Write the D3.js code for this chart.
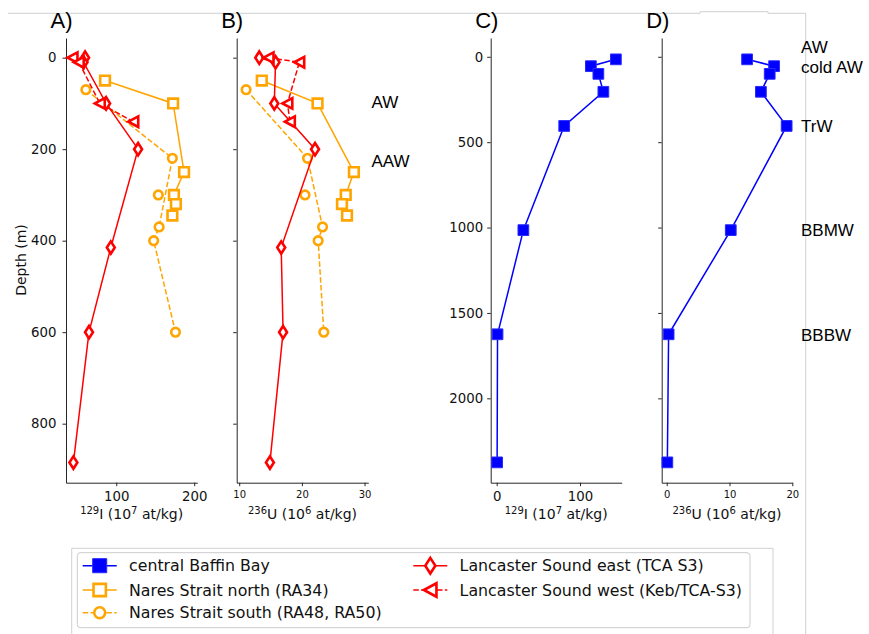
<!DOCTYPE html>
<html lang="en">
<head>
<meta charset="UTF-8">
<title>Depth profiles 129I / 236U</title>
<script src="https://d3js.org/d3.v7.min.js"></script>
<style>
  body { margin: 0; background: #fff; }
  svg text { font-family: "DejaVu Sans", sans-serif; fill: #111; }
  svg text.lab { font-family: "Liberation Sans", Arial, sans-serif; fill: #000; }
</style>
</head>
<body>
<svg id="chart" width="869" height="634"></svg>
<script>
// values
// Lancaster Sound east (TCA S3)
var lseDepth = [0, 10, 100, 200, 415, 600, 885];
var lseI = [60, 58, 87, 128, 93, 65, 45];
var lseU = [13.2, 15.8, 15.6, 22.1, 16.7, 17.0, 14.9];
// Lancaster Sound west (Keb/TCA-S3)
var lswDepth = [0, 10, 100, 140];
var lswI = [44, 52, 79, 122];
var lswU = [14.7, 19.6, 17.7, 18.1];
// Nares Strait north (RA34)
var nsnDepth = [50, 100, 250, 300, 320, 345];
var nsnI = [85.6, 173, 187, 174, 176.5, 172];
var nsnU = [13.6, 22.5, 28.3, 27.0, 26.4, 27.2];
// Nares Strait south (RA48, RA50) - null breaks the line
var nssDepth = [70, 220, 370, 400, 600, null, 300];
var nssI = [61, 172, 155, 148, 176, null, 154];
var nssU = [11.1, 20.9, 23.3, 22.6, 23.5, null, 20.5];
// central Baffin Bay
var cbbDepth = [15, 55, 100, 205, 405, 1015, 1625, 2375];
var cbbI = [143, 113, 122, 128, 81, 32, 1, 0.5];
var cbbU = [12.8, 17.1, 16.4, 15.0, 19.1, 10.2, 0.3, 0.1];

// water mass labels
var shelfMasses = ["AW", "AAW"];
var shelfMassDepth = [99, 228];
var basinMasses = ["AW", "cold AW", "TrW", "BBMW", "BBBW"];
var basinMassDepth = [-55, 63, 410, 1020, 1630];

var depthTicksShallow = [0, 200, 400, 600, 800];
var depthTicksDeep = [0, 500, 1000, 1500, 2000];

var RED = "#ff0000", ORANGE = "#ffa500", BLUE = "#0000ff";
var DASH = "5.5,2.4";

var svg = d3.select("#chart");

// frame lines from the original figure
svg.append("path")
    .attr("d", "M8,13.3H700V11.7H768V13.3H805.7V634")
    .attr("fill", "none").attr("stroke", "#cfcfcf").attr("stroke-width", 1);
svg.append("path")
    .attr("d", "M71.7,634V548.3H773V634")
    .attr("fill", "none").attr("stroke", "#d0d0d0").attr("stroke-width", 1);

var yShallow = d3.scaleLinear().domain([-43, 929]).range([38, 482.7]);
var yDeep = d3.scaleLinear().domain([-110, 2494]).range([38, 482.7]);

var series = [
    {name: "central Baffin Bay", d: cbbDepth, I: cbbI, U: cbbU, color: BLUE, dash: null, shape: "square", filled: true},
    {name: "Nares Strait north (RA34)", d: nsnDepth, I: nsnI, U: nsnU, color: ORANGE, dash: null, shape: "square"},
    {name: "Nares Strait south (RA48, RA50)", d: nssDepth, I: nssI, U: nssU, color: ORANGE, dash: DASH, shape: "circle"},
    {name: "Lancaster Sound east (TCA S3)", d: lseDepth, I: lseI, U: lseU, color: RED, dash: null, shape: "diamond"},
    {name: "Lancaster Sound west (Keb/TCA-S3)", d: lswDepth, I: lswI, U: lswU, color: RED, dash: DASH, shape: "tri"}
];

// marker outlines, s = scale
function markerPath(shape, s) {
    var p = d3.path();
    if (shape == "square") {
        var a = 4.4 * s;
        p.rect(-a, -a, 2 * a, 2 * a);
    } else if (shape == "circle") {
        p.arc(0, 0, 3.9 * s, 0, 2 * Math.PI);
    } else if (shape == "diamond") {
        p.moveTo(0, -5.6 * s); p.lineTo(3.6 * s, 0); p.lineTo(0, 5.6 * s); p.lineTo(-3.6 * s, 0); p.closePath();
    } else {
        p.moveTo(-4.6 * s, 0); p.lineTo(4.4 * s, -4.8 * s); p.lineTo(4.4 * s, 4.8 * s); p.closePath();
    }
    return p.toString();
}

function drawMarker(g, sr, cx, cy, s) {
    var m = g.append("path")
        .attr("transform", "translate(" + cx + "," + cy + ")")
        .attr("d", markerPath(sr.shape, s));
    if (sr.filled) {
        m.attr("fill", sr.color).attr("stroke", "#2a2aff").attr("stroke-width", 1);
    } else {
        m.attr("fill", "#fff").attr("stroke", sr.color).attr("stroke-width", 2.6);
    }
}

function xLabel(g, cx, iso, elem, exp) {
    var t = g.append("text").attr("x", cx).attr("y", 519)
        .attr("text-anchor", "middle").style("font-size", "14px");
    t.append("tspan").text(iso).style("font-size", "10px").attr("dy", -5);
    t.append("tspan").text(elem).attr("dy", 5);
    t.append("tspan").text(" (10");
    t.append("tspan").text(exp).style("font-size", "10px").attr("dy", -5);
    t.append("tspan").text(" at/kg)").attr("dy", 5);
}

var panels = [
    {title: "A)", left: 66, right: 197.3, xDomain: [35.5, 204], xTicks: [100, 200], xFont: 13.3,
     y: yShallow, yTicks: depthTicksShallow, yLabels: true, yPad: 6, key: "I", iso: "129", elem: "I", exp: "7", list: [1, 2, 3, 4]},
    {title: "B)", left: 236.7, right: 368.3, xDomain: [9.6, 30.6], xTicks: [10, 20, 30], xFont: 10,
     y: yShallow, yTicks: depthTicksShallow, yLabels: false, key: "U", iso: "236", elem: "U", exp: "6", list: [1, 2, 3, 4]},
    {title: "C)", left: 490.7, right: 621.7, xDomain: [-7.2, 150], xTicks: [0, 100], xFont: 13.3,
     y: yDeep, yTicks: depthTicksDeep, yLabels: true, yPad: 4, key: "I", iso: "129", elem: "I", exp: "7", list: [0]},
    {title: "D)", left: 661.7, right: 792.3, xDomain: [-0.8, 20], xTicks: [0, 10, 20], xFont: 10,
     y: yDeep, yTicks: depthTicksDeep, yLabels: false, key: "U", iso: "236", elem: "U", exp: "6", list: [0]}
];

panels.forEach(function(p) {
    var g = svg.append("g");
    var x = d3.scaleLinear().domain(p.xDomain).range([p.left, p.right]);
    var y = p.y;
    var bottom = y.range()[1];

    var xa = g.append("g").attr("transform", "translate(0," + bottom + ")")
        .call(d3.axisBottom(x).tickValues(p.xTicks).tickSize(3.5).tickSizeOuter(0).tickPadding(5).tickFormat(d3.format("d")));
    var ya = g.append("g").attr("transform", "translate(" + p.left + ",0)")
        .call(d3.axisLeft(y).tickValues(p.yTicks).tickSize(3.5).tickSizeOuter(0).tickPadding(p.yPad || 3)
            .tickFormat(p.yLabels ? d3.format("d") : function() { return ""; }));
    [xa, ya].forEach(function(a) {
        a.attr("font-family", null).attr("font-size", null);
        a.select(".domain").attr("stroke", "#262626").attr("stroke-width", 1);
        a.selectAll(".tick line").attr("stroke", "#262626");
        a.selectAll(".tick text").attr("fill", "#111");
    });
    xa.selectAll(".tick text").style("font-size", p.xFont + "px");
    ya.selectAll(".tick text").style("font-size", "13.3px");

    p.list.forEach(function(i) {
        var sr = series[i];
        var pts = sr.d.map(function(dep, k) { return {dep: dep, v: sr[p.key][k]}; });
        var line = d3.line()
            .defined(function(d) { return d.v != null; })
            .x(function(d) { return x(d.v); })
            .y(function(d) { return y(d.dep); });
        g.append("path").datum(pts)
            .attr("d", line)
            .attr("fill", "none")
            .attr("stroke", sr.color)
            .attr("stroke-width", 1.5)
            .attr("stroke-dasharray", sr.dash);
        pts.forEach(function(d) {
            if (d.v == null) return;
            drawMarker(g, sr, x(d.v), y(d.dep), sr.filled ? 1.22 : 1.1);
        });
    });

    g.append("text").attr("class", "lab")
        .attr("x", p.left - 15.5).attr("y", 28)
        .style("font-size", "22px").text(p.title);

    xLabel(g, (p.left + p.right) / 2, p.iso, p.elem, p.exp);
});

// y label
svg.append("text")
    .attr("transform", "translate(21,260) rotate(-90)")
    .attr("text-anchor", "middle").attr("dominant-baseline", "central")
    .style("font-size", "14px").text("Depth (m)");

// water mass labels
shelfMasses.forEach(function(name, i) {
    svg.append("text").attr("class", "lab")
        .attr("x", 371.5).attr("y", yShallow(shelfMassDepth[i]))
        .attr("dominant-baseline", "central")
        .style("font-size", "17px").text(name);
});
basinMasses.forEach(function(name, i) {
    svg.append("text").attr("class", "lab")
        .attr("x", 801).attr("y", yDeep(basinMassDepth[i]))
        .attr("dominant-baseline", "central")
        .style("font-size", "17px").text(name);
});

// legend
var lg = svg.append("g");
lg.append("rect")
    .attr("x", 77.3).attr("y", 552.7).attr("width", 672.7).attr("height", 75)
    .attr("rx", 3).attr("fill", "#fff").attr("stroke", "#cccccc");
var legendCols = [82.7, 413.3];
var legendRows = [565.7, 590, 612.7];
series.forEach(function(sr, i) {
    var cx = legendCols[Math.floor(i / 3)], cy = legendRows[i % 3];
    lg.append("line")
        .attr("x1", cx).attr("x2", cx + 34).attr("y1", cy).attr("y2", cy)
        .attr("stroke", sr.color).attr("stroke-width", 1.5)
        .attr("stroke-dasharray", sr.dash);
    drawMarker(lg, sr, cx + 17, cy, sr.filled ? 1.6 : 1.4);
    lg.append("text")
        .attr("x", cx + 46.3).attr("y", cy)
        .attr("dominant-baseline", "central")
        .style("font-size", "15.8px").text(sr.name);
});
</script>
</body>
</html>
